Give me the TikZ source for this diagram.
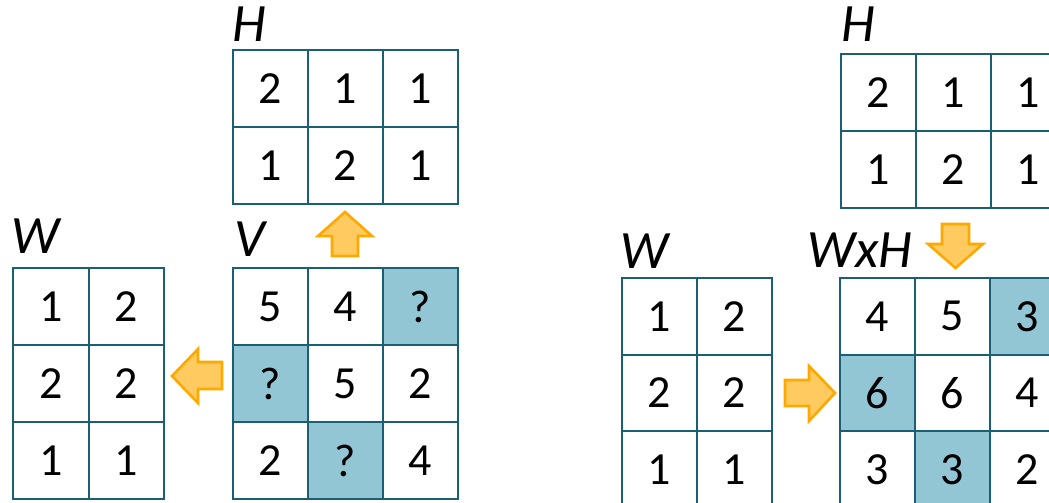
\documentclass[tikz,border=0pt]{standalone}
\usepackage{fontspec}
\setmainfont{Carlito}
\definecolor{gridline}{HTML}{1B5F75}
\definecolor{hlfill}{HTML}{93C6D4}
\definecolor{arrline}{HTML}{FFA800}
\definecolor{arrfill}{HTML}{FFCB60}
\tikzset{
  cell/.style={draw=gridline, line width=2.2pt, minimum width=#1, minimum height=77pt, inner sep=0pt, anchor=north west, font=\fontsize{46}{46}\selectfont, fill=white},
  cell/.default=75pt,
  hl/.style={fill=hlfill},
  lab/.style={anchor=base west, inner sep=0pt, font=\fontsize{54}{54}\selectfont\itshape},
  blockarrow/.style={draw=arrline, fill=arrfill, line width=2.6pt, line join=miter}
}
\begin{document}
\begin{tikzpicture}[x=1pt,y=-1pt]
\useasboundingbox (0,0) rectangle (1049,503);
% ---------- left: H ----------
\node[lab] (lH) at (232,42) {H};
\foreach \r/\row in {0/{2,1,1},1/{1,2,1}} {
  \foreach \v [count=\c from 0] in \row {
    \node[cell] (lh-\r-\c) at (232+75*\c,49+77*\r) {\v};
  }
}
% ---------- left: V ----------
\node[lab] (lV) at (234,256) {V};
\node[cell] (v-0-0) at (232,267) {5};
\node[cell] (v-0-1) at (307,267) {4};
\node[cell,hl] (v-0-2) at (382,267) {?};
\node[cell,hl] (v-1-0) at (232,344) {?};
\node[cell] (v-1-1) at (307,344) {5};
\node[cell] (v-1-2) at (382,344) {2};
\node[cell] (v-2-0) at (232,421) {2};
\node[cell,hl] (v-2-1) at (307,421) {?};
\node[cell] (v-2-2) at (382,421) {4};
% ---------- left: W ----------
\node[lab] (lW) at (11,253) {W};
\foreach \r/\row in {0/{1,2},1/{2,2},2/{1,1}} {
  \foreach \v [count=\c from 0] in \row {
    \node[cell=75.5pt] (lw-\r-\c) at (12+75.5*\c,267+77*\r) {\v};
  }
}
% arrows left
\draw[blockarrow] (345,212) -- (372,236) -- (358,236) -- (358,256) -- (332,256) -- (332,236) -- (318,236) -- cycle;
\draw[blockarrow] (172,376) -- (198,349) -- (198,362) -- (222,362) -- (222,389) -- (198,389) -- (198,403) -- cycle;
% ---------- right: H ----------
\node[lab] (rH) at (841,42) {H};
\foreach \r/\row in {0/{2,1,1},1/{1,2,1}} {
  \foreach \v [count=\c from 0] in \row {
    \node[cell] (rh-\r-\c) at (840+75*\c,53+77*\r) {\v};
  }
}
% ---------- right: W ----------
\node[lab] (rW) at (620,268) {W};
\foreach \r/\row in {0/{1,2},1/{2,2},2/{1,1}} {
  \foreach \v [count=\c from 0] in \row {
    \node[cell, minimum height=76.5pt] (rw-\r-\c) at (621+75*\c,277+76.5*\r) {\v};
  }
}
% ---------- right: WxH ----------
\node[lab] (lWxH) at (807,267) {WxH};
\node[cell, minimum height=76.5pt] (p-0-0) at (839,277) {4};
\node[cell, minimum height=76.5pt] (p-0-1) at (914,277) {5};
\node[cell, minimum height=76.5pt,hl] (p-0-2) at (989,277) {3};
\node[cell, minimum height=76.5pt,hl] (p-1-0) at (839,353.5) {6};
\node[cell, minimum height=76.5pt] (p-1-1) at (914,353.5) {6};
\node[cell, minimum height=76.5pt] (p-1-2) at (989,353.5) {4};
\node[cell, minimum height=76.5pt] (p-2-0) at (839,430) {3};
\node[cell, minimum height=76.5pt,hl] (p-2-1) at (914,430) {3};
\node[cell, minimum height=76.5pt] (p-2-2) at (989,430) {2};
% arrows right
\draw[blockarrow] (955.5,268) -- (983,244) -- (969,244) -- (969,224) -- (942,224) -- (942,244) -- (928,244) -- cycle;
\draw[blockarrow] (835,393) -- (809,366) -- (809,380) -- (785,380) -- (785,406) -- (809,406) -- (809,421) -- cycle;
\end{tikzpicture}
\end{document}
